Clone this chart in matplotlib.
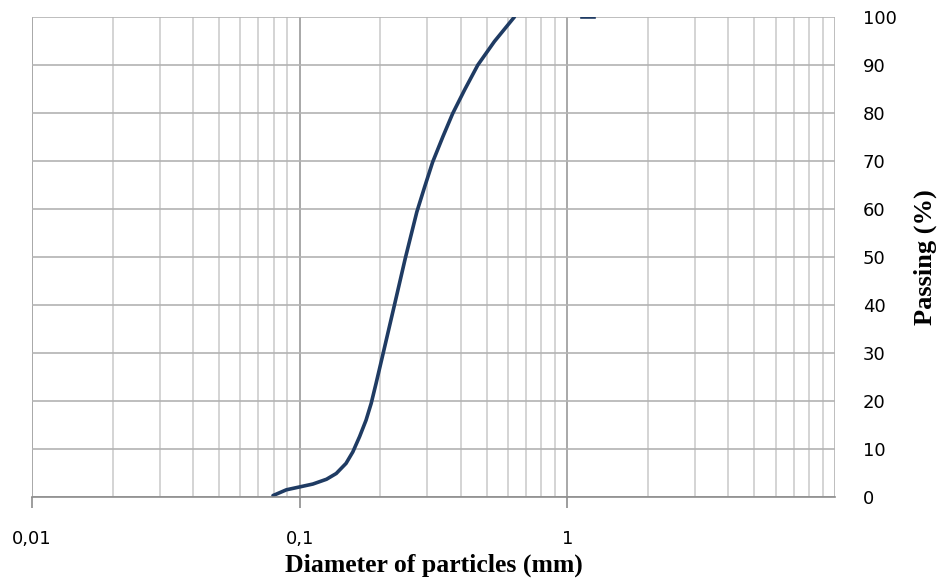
import matplotlib.pyplot as plt
from matplotlib.ticker import FixedLocator, NullFormatter, LogLocator

# grain size curve (diameter in mm, passing in %)
diameter = [0.0795, 0.0892, 0.100, 0.112, 0.126, 0.137, 0.149, 0.158, 0.1675,
            0.177, 0.185, 0.193, 0.205, 0.226, 0.248, 0.274, 0.293, 0.314,
            0.343, 0.373, 0.413, 0.463, 0.534, 0.634]
passing = [0.3, 1.5, 2.1, 2.7, 3.7, 4.9, 7.0, 9.4, 12.6,
           16.0, 19.5, 23.7, 29.9, 40.0, 49.7, 59.4, 64.6, 69.8,
           75.1, 79.9, 84.8, 90.0, 94.9, 100.0]
# short piece visible at the top near 1.2 mm
tail_d = [1.13, 1.26]
tail_p = [100, 100]

x_ticks = [0.01, 0.1, 1]
x_labels = ['0,01', '0,1', '1']
y_ticks = list(range(0, 101, 10))

fig = plt.figure(figsize=(9.47, 5.84), dpi=100)
ax = fig.add_axes([32 / 947, 87 / 584, 803 / 947, 480 / 584])

ax.plot(diameter, passing, color='#1F3B63', lw=2.6, solid_capstyle='round',
        solid_joinstyle='round')
ax.plot(tail_d, tail_p, color='#1F3B63', lw=2.6)

ax.set_xscale('log')
ax.set_xlim(0.01, 10)
ax.set_ylim(0, 100)

ax.xaxis.set_major_locator(FixedLocator(x_ticks))
ax.set_xticklabels(x_labels)
ax.xaxis.set_minor_locator(LogLocator(base=10, subs=range(2, 10)))
ax.xaxis.set_minor_formatter(NullFormatter())

ax.yaxis.tick_right()
ax.set_yticks(y_ticks)

ax.grid(True, which='major', axis='x', color='#9a9a9a', lw=1.2)
ax.grid(True, which='minor', axis='x', color='#cdcdcd', lw=1.2)
ax.grid(True, which='major', axis='y', color='#b3b3b3', lw=1.2)
# right border line at 10
ax.axvline(10, color='#b3b3b3', lw=1.2)
ax.set_axisbelow(True)

for s in ['top', 'right', 'left']:
    ax.spines[s].set_visible(False)
ax.spines['bottom'].set_color('#8c8c8c')
ax.spines['bottom'].set_linewidth(1.2)

ax.tick_params(axis='x', which='major', length=8, color='#8c8c8c', width=1.2,
               pad=16, labelsize=13)
ax.tick_params(axis='x', which='minor', length=0)
ax.tick_params(axis='y', length=0, pad=20, labelsize=13)

ax.set_xlabel('Diameter of particles (mm)', family='Liberation Serif',
              fontweight='bold', fontsize=18.5, labelpad=4)
ax.yaxis.set_label_position('right')
ax.set_ylabel('Passing (%)', family='Liberation Serif', fontweight='bold',
              fontsize=19, labelpad=12)

fig.savefig('out.png', dpi=100)
